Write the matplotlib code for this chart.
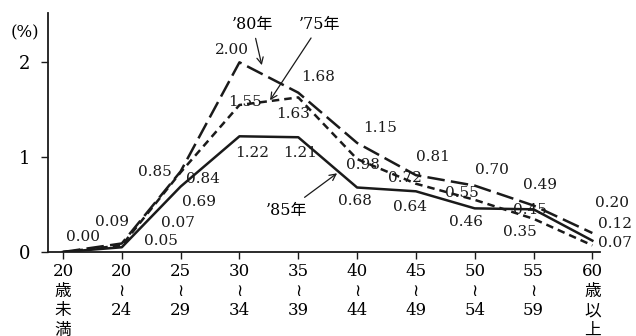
import matplotlib
matplotlib.use("Agg")
import matplotlib.pyplot as plt

plt.rcParams['font.family'] = ['DejaVu Serif', 'Noto Sans CJK JP', 'DejaVu Sans']

# categories (age groups)
categories = ["20\n歳\n未\n満", "20\n≀\n24", "25\n≀\n29", "30\n≀\n34", "35\n≀\n39",
              "40\n≀\n44", "45\n≀\n49", "50\n≀\n54", "55\n≀\n59", "60\n歳\n以\n上"]

# series values (%)
y1980 = [0.00, 0.09, 0.85, 2.00, 1.68, 1.15, 0.81, 0.70, 0.49, 0.20]
y1975 = [0.00, 0.07, 0.84, 1.55, 1.63, 0.98, 0.72, 0.55, 0.35, 0.07]
y1985 = [0.00, 0.05, 0.69, 1.22, 1.21, 0.68, 0.64, 0.46, 0.45, 0.12]

series = {"80": y1980, "75": y1975, "85": y1985}

# where each value label is written: (series, index, x, y)
label_pos = [
    ("85", 0, 0.34, 0.16),
    ("80", 1, 0.83, 0.32), ("75", 1, 1.96, 0.31), ("85", 1, 1.67, 0.12),
    ("80", 2, 1.56, 0.84), ("75", 2, 2.38, 0.77), ("85", 2, 2.31, 0.53),
    ("80", 3, 2.87, 2.13), ("75", 3, 3.10, 1.58), ("85", 3, 3.21, 1.04),
    ("80", 4, 4.34, 1.84), ("75", 4, 3.91, 1.46), ("85", 4, 4.03, 1.04),
    ("80", 5, 5.39, 1.31), ("75", 5, 5.10, 0.92), ("85", 5, 4.97, 0.54),
    ("80", 6, 6.29, 1.00), ("75", 6, 5.82, 0.78), ("85", 6, 5.90, 0.47),
    ("80", 7, 7.30, 0.86), ("75", 7, 6.79, 0.62), ("85", 7, 6.85, 0.32),
    ("80", 8, 8.11, 0.71), ("75", 8, 7.77, 0.21), ("85", 8, 7.94, 0.44),
    ("80", 9, 9.34, 0.52), ("75", 9, 9.39, 0.09), ("85", 9, 9.39, 0.29),
]

fig = plt.figure(figsize=(6.36, 3.36), dpi=100)
ax = fig.add_axes([48 / 636, 1 - 252 / 336, 552 / 636, 239 / 336])

x = list(range(len(categories)))
col = "#1a1a1a"
ax.plot(x, y1980, color=col, lw=1.8, dashes=(7, 2.5), solid_capstyle="butt")
ax.plot(x, y1975, color=col, lw=1.8, dashes=(3, 2))
ax.plot(x, y1985, color=col, lw=1.8)

for key, i, tx, ty in label_pos:
    ax.text(tx, ty, f"{series[key][i]:.2f}", ha="center", va="center",
            fontsize=11, color=col, clip_on=False)

arrow = dict(arrowstyle="->", color=col, lw=0.9, shrinkA=2, shrinkB=0)
ax.annotate("’80年", xy=(3.38, 1.97), xytext=(3.22, 2.40), ha="center", va="center",
            fontsize=11.5, arrowprops=arrow, annotation_clip=False)
ax.annotate("’75年", xy=(3.52, 1.60), xytext=(4.37, 2.40), ha="center", va="center",
            fontsize=11.5, arrowprops=arrow, annotation_clip=False)
ax.annotate("’85年", xy=(4.66, 0.83), xytext=(3.81, 0.44), ha="center", va="center",
            fontsize=11.5, arrowprops=arrow, annotation_clip=False)

ax.set_xlim(-0.255, 9.13)
ax.set_ylim(0, 2.52)
ax.set_yticks([0, 1, 2])
ax.set_yticklabels(["0", "1", "2"], fontsize=13)
ax.set_xticks(x)
ax.set_xticklabels(categories, fontsize=12, linespacing=1.2, va="top")
ax.tick_params(axis="both", direction="out", length=5, width=1, color=col)
ax.tick_params(axis="x", pad=3)
ax.tick_params(axis="y", pad=8)
for s in ["top", "right"]:
    ax.spines[s].set_visible(False)
for s in ["left", "bottom"]:
    ax.spines[s].set_linewidth(1.3)
    ax.spines[s].set_color(col)

fig.text(25 / 636, 1 - 33 / 336, "(%)", ha="center", va="center", fontsize=12)

fig.savefig("out.png", dpi=100)
